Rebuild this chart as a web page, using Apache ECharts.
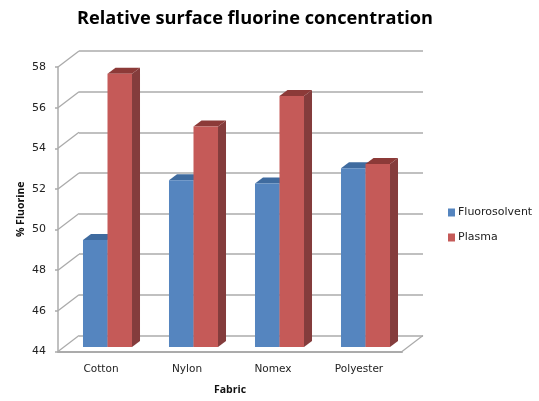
<!DOCTYPE html>
<html><head><meta charset="utf-8">
<style>html,body{margin:0;padding:0;background:#fff}#c{width:539px;height:401px}</style>
<script src="https://cdn.jsdelivr.net/npm/echarts@6/dist/echarts.min.js"></script>
</head><body><div id="c"></div>
<script>
const categories = ['Cotton','Nylon','Nomex','Polyester'];
const fluorosolvent = [49.27,52.2,52.05,52.8];
const plasma = [57.45,54.85,56.35,53.0];
const yTicks = [44,46,48,50,52,54,56,58];

const chart = echarts.init(document.getElementById('c'),null,{renderer:'canvas'});
const GRID='#ababab', TXT='#222';
const FONT='"DejaVu Sans"';
function barSeries(name,values,slot,front,side,top){
  return {name,type:'custom',xAxisIndex:2,yAxisIndex:2,z:5,
    itemStyle:{color:front},
    encode:{x:0,y:1},
    data:values.map((v,i)=>[i,v]),
    renderItem(params,api){
      const p=api.coord([api.value(0),api.value(1)]);
      const base=api.coord([api.value(0),44]);
      const w=api.size([1,0])[0]*0.285, dx=8, dy=6;
      const x=p[0]+(slot-1)*w, t=p[1], b=base[1];
      return {type:'group',children:[
        {type:'polygon',shape:{points:[[x+w,t],[x+w+dx,t-dy],[x+w+dx,b-dy],[x+w,b]]},style:{fill:side}},
        {type:'polygon',shape:{points:[[x,t],[x+dx,t-dy],[x+w+dx,t-dy],[x+w,t]]},style:{fill:top}},
        {type:'rect',shape:{x,y:t,width:w,height:b-t},style:{fill:front}}
      ]};
    }};
}
chart.setOption({
  animation:false,backgroundColor:'#fff',
  title:{text:'Relative surface fluorine concentration',left:250,top:5,textAlign:'center',
    textStyle:{fontFamily:'"Open Sans"',fontWeight:'bold',fontSize:18.2,color:'#000'}},
  legend:{data:[{name:'Fluorosolvent',icon:'rect'},{name:'Plasma',icon:'rect'}],orient:'vertical',left:448,top:207,padding:0,
    itemWidth:7,itemHeight:8,itemGap:14,
    textStyle:{fontFamily:FONT,fontSize:11,color:TXT,padding:[0,0,0,-2]}},
  grid:[
    {left:58,width:344,top:67,height:284.5},
    {left:79,width:344,top:51,height:284.5},
    {left:64.5,width:344,top:62.5,height:284.5}
  ],
  xAxis:[
    {gridIndex:0,type:'category',data:categories,axisLine:{lineStyle:{color:GRID,width:2}},axisTick:{show:false},
      axisLabel:{fontFamily:FONT,fontSize:10.5,color:TXT,margin:12,interval:0},
      name:'Fabric',nameLocation:'middle',nameGap:33,
      nameTextStyle:{fontFamily:'"Open Sans"',fontWeight:'bold',fontSize:10.5,color:'#111'}},
    {gridIndex:1,type:'category',data:categories,show:false},
    {gridIndex:2,type:'category',data:categories,show:false}
  ],
  yAxis:[
    {gridIndex:0,type:'value',min:44,max:58,interval:2,splitLine:{show:false},
      axisLine:{show:true,lineStyle:{color:GRID,width:1.5}},axisTick:{show:true,length:3,lineStyle:{color:GRID,width:1.5}},
      axisLabel:{fontFamily:FONT,fontSize:11,color:TXT,margin:12},
      name:'% Fluorine',nameLocation:'middle',nameGap:31,nameRotate:90,nameMoveOverlap:false,
      nameTextStyle:{fontFamily:'"Open Sans"',fontWeight:'bold',fontSize:10.5,color:'#111'}},
    {gridIndex:1,type:'value',min:44,max:58,interval:2,axisLabel:{show:false},axisLine:{show:false},axisTick:{show:false},
      splitLine:{show:true,lineStyle:{color:GRID,width:1.5}}},
    {gridIndex:2,type:'value',min:44,max:58,interval:2,show:false,splitLine:{show:false}}
  ],
  series:[
    {name:'depth',type:'custom',xAxisIndex:0,yAxisIndex:0,z:2,silent:true,
      data:yTicks.map(v=>[0,v]),encode:{x:0,y:1},
      renderItem(params,api){
        const cs=params.coordSys, y=api.coord([0,api.value(1)])[1];
        const line=x=>({type:'line',shape:{x1:x,y1:y,x2:x+21,y2:y-16},style:{stroke:GRID,lineWidth:1.3}});
        const kids=[line(cs.x)];
        if(api.value(1)===44) kids.push(line(cs.x+cs.width));
        return {type:'group',children:kids};
      }},
    barSeries('Fluorosolvent',fluorosolvent,0,'#5585bf','#3f6b9f','#3f6b9f'),
    barSeries('Plasma',plasma,1,'#c55a58','#843c3c','#8c3a38')
  ]
});
</script></body></html>
